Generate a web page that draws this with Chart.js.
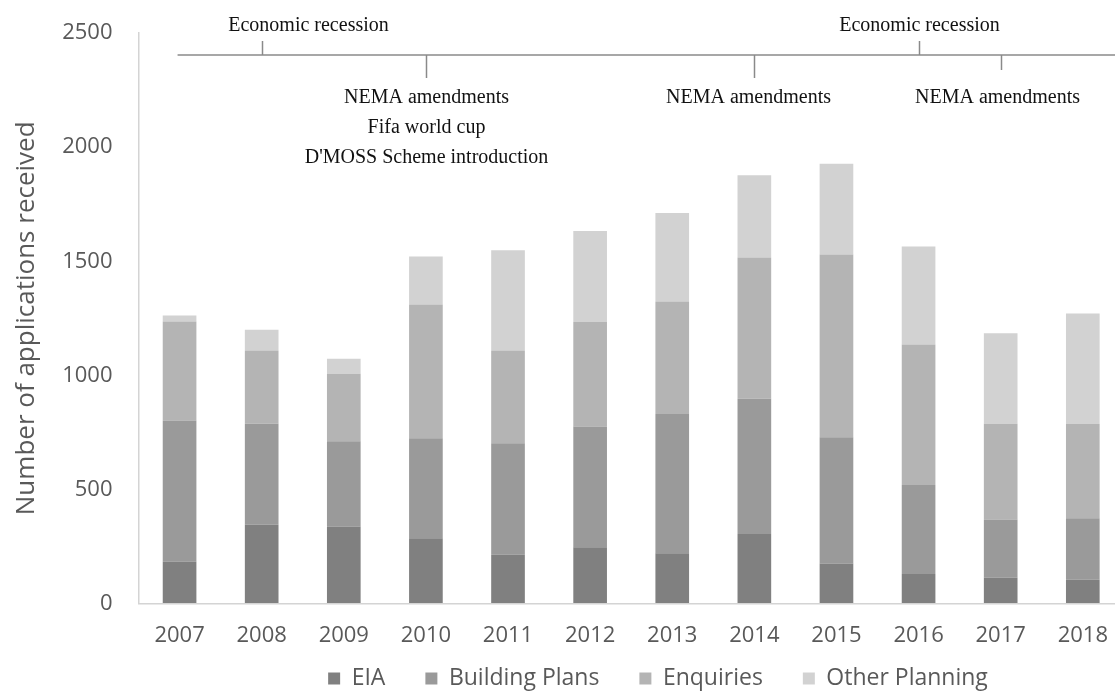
<!DOCTYPE html>
<html>
<head>
<meta charset="utf-8">
<title>Applications received</title>
<script src="https://cdn.jsdelivr.net/npm/chart.js@4/dist/chart.umd.min.js"></script>
<style>
  html, body { margin: 0; padding: 0; background: #fff; overflow: hidden; }
  #wrap { width: 1127px; height: 696px; position: relative; }
</style>
</head>
<body>
<div id="wrap"><canvas id="chart"></canvas></div>
<script>
const years = ["2007", "2008", "2009", "2010", "2011", "2012", "2013", "2014", "2015", "2016", "2017", "2018"];
const eia = [184, 345, 338, 286, 215, 247, 221, 305, 176, 130, 113, 105];
const buildingPlans = [618, 443, 373, 438, 488, 529, 610, 593, 553, 390, 256, 269];
const enquiries = [434, 321, 296, 586, 406, 458, 493, 618, 801, 615, 419, 414];
const otherPlanning = [26, 91, 66, 211, 439, 398, 387, 361, 397, 430, 397, 483];

// events marked on the timeline above the bars
const events = [
  { year: "2008", side: "up", text: ["Economic recession"] },
  { year: "2010", side: "down", text: ["NEMA amendments", "Fifa world cup", "D'MOSS Scheme introduction"] },
  { year: "2014", side: "down", text: ["NEMA amendments"] },
  { year: "2016", side: "up", text: ["Economic recession"] },
  { year: "2017", side: "down", text: ["NEMA amendments"] },
];

const axisGrey = "#595959";
const tickFont = { family: "'Open Sans', sans-serif", size: 22 };

// draws the timeline with its event markers
const timelinePlugin = {
  id: "timeline",
  afterDraw(chart, args, opts) {
    const ctx = chart.ctx;
    const xs = chart.scales.x;
    ctx.save();
    ctx.strokeStyle = "#8a8a8a";
    ctx.lineWidth = 1.5;
    ctx.beginPath();
    ctx.moveTo(xs.getPixelForValue(0) - 2, opts.lineY);
    ctx.lineTo(chart.width, opts.lineY);
    ctx.stroke();

    ctx.font = "20px 'Liberation Serif', 'Times New Roman', serif";
    ctx.fillStyle = "#111";
    ctx.textAlign = "center";
    ctx.textBaseline = "middle";
    events.forEach((ev, i) => {
      const px = Math.round(xs.getPixelForValue(years.indexOf(ev.year))) + 0.5;
      const len = opts.tickLen[i];
      ctx.beginPath();
      if (ev.side === "up") {
        ctx.moveTo(px, opts.lineY - len);
        ctx.lineTo(px, opts.lineY);
      } else {
        ctx.moveTo(px, opts.lineY);
        ctx.lineTo(px, opts.lineY + len);
      }
      ctx.stroke();
      const tx = px + opts.labelDx[i];
      const ty = ev.side === "up" ? opts.upTextY : opts.downTextY;
      ev.text.forEach((line, j) => ctx.fillText(line, tx, ty + j * opts.lineGap));
    });
    ctx.restore();
  },
};

// nudges the legend so it sits where the original placed it
const legendNudge = {
  id: "legendNudge",
  afterLayout(chart, args, opts) {
    const lg = chart.legend;
    if (!lg) return;
    lg.left += opts.dx;
    lg.right += opts.dx;
    lg.top += opts.dy;
    lg.bottom += opts.dy;
  },
};

new Chart(document.getElementById("chart"), {
  type: "bar",
  data: {
    labels: years,
    datasets: [
      { label: "EIA", data: eia, backgroundColor: "#808080" },
      { label: "Building Plans", data: buildingPlans, backgroundColor: "#9a9a9a" },
      { label: "Enquiries", data: enquiries, backgroundColor: "#b4b4b4" },
      { label: "Other Planning", data: otherPlanning, backgroundColor: "#d2d2d2" },
    ],
  },
  options: {
    responsive: true,
    maintainAspectRatio: false,
    animation: false,
    layout: { padding: { top: 33, right: 1, bottom: -45, left: 0 } },
    datasets: { bar: { categoryPercentage: 1, barPercentage: 0.41 } },
    scales: {
      x: {
        stacked: true,
        grid: { display: false, drawTicks: false },
        border: { display: true, color: "#d4d4d4", width: 1.5 },
        ticks: { color: axisGrey, font: tickFont, padding: 19, maxRotation: 0 },
      },
      y: {
        stacked: true,
        min: 0,
        max: 2500,
        // invisible tick marks give the gap between labels and axis
        grid: {
          display: true,
          drawOnChartArea: false,
          drawTicks: true,
          tickLength: 26,
          color: "transparent",
          tickColor: "transparent",
        },
        border: { display: true, color: "#d4d4d4", width: 1.5 },
        ticks: {
          color: axisGrey,
          font: tickFont,
          stepSize: 500,
          padding: 0,
          callback: (v) => String(v),
        },
        title: {
          display: true,
          text: "Number of applications received",
          color: axisGrey,
          font: { family: "'Open Sans', sans-serif", size: 26 },
          padding: { top: 11, bottom: 20 },
        },
      },
    },
    plugins: {
      legend: {
        position: "bottom",
        labels: {
          color: axisGrey,
          font: { family: "'Open Sans', sans-serif", size: 23 },
          boxWidth: 12,
          boxHeight: 12,
          padding: 40,
        },
      },
      tooltip: { enabled: false },
      timeline: {
        lineY: 55,
        tickLen: [14, 23, 23, 14, 15],
        labelDx: [46, 0, -6, 0, -4],
        upTextY: 26,
        downTextY: 98,
        lineGap: 30,
      },
      legendNudge: { dx: 95, dy: -41 },
    },
  },
  plugins: [timelinePlugin, legendNudge],
});
</script>
</body>
</html>
